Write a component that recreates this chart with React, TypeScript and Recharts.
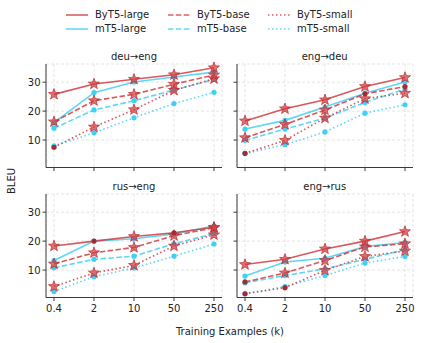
import React from 'react';
import { LineChart, Line, XAxis, YAxis, CartesianGrid } from 'recharts';

// x categories (training examples, thousands)
const categories = ['0.4', '2', '10', '50', '250'];
const yTicks = [10, 20, 30];

// deu→eng
const deuEngByt5Large = [25.8, 29.4, 31.0, 32.6, 35.0];
const deuEngMt5Large = [16.0, 26.4, 30.1, 31.8, 33.5];
const deuEngByt5Base = [16.3, 23.6, 25.8, 29.3, 32.5];
const deuEngMt5Base = [14.1, 20.4, 23.6, 27.3, 31.0];
const deuEngByt5Small = [7.5, 14.5, 20.5, 27.2, 31.2];
const deuEngMt5Small = [8.0, 12.5, 17.7, 22.6, 26.5];

// eng→deu
const engDeuByt5Large = [16.6, 20.8, 23.9, 28.5, 31.6];
const engDeuMt5Large = [13.8, 16.8, 21.4, 26.2, 30.1];
const engDeuByt5Base = [10.8, 15.4, 20.4, 26.0, 28.5];
const engDeuMt5Base = [9.9, 13.8, 17.6, 23.0, 27.6];
const engDeuByt5Small = [5.4, 9.9, 17.6, 24.3, 26.2];
const engDeuMt5Small = [5.3, 8.4, 12.8, 19.3, 22.2];

// rus→eng
const rusEngByt5Large = [18.3, 20.0, 21.6, 22.9, 24.8];
const rusEngMt5Large = [13.3, 20.0, 20.8, 22.5, 25.2];
const rusEngByt5Base = [12.1, 16.0, 17.8, 21.9, 24.6];
const rusEngMt5Base = [10.8, 13.7, 14.8, 19.1, 22.6];
const rusEngByt5Small = [4.3, 9.0, 11.6, 18.3, 22.2];
const rusEngMt5Small = [2.6, 7.7, 10.7, 14.8, 19.0];

// eng→rus
const engRusByt5Large = [11.9, 13.7, 17.3, 20.0, 23.3];
const engRusMt5Large = [7.9, 12.8, 14.1, 18.1, 19.5];
const engRusByt5Base = [5.9, 9.0, 13.3, 18.0, 19.1];
const engRusMt5Base = [5.6, 8.1, 10.4, 13.7, 17.0];
const engRusByt5Small = [1.8, 3.9, 9.9, 14.7, 16.6];
const engRusMt5Small = [1.8, 4.3, 8.1, 12.4, 14.7];

// star = ByT5 point marked as significant, otherwise small dark dot
const deuEngStars = { large: [1, 1, 1, 1, 1], base: [1, 1, 1, 1, 1], small: [0, 1, 1, 1, 1] };
const engDeuStars = { large: [1, 1, 1, 1, 1], base: [1, 1, 1, 0, 0], small: [0, 1, 1, 1, 1] };
const rusEngStars = { large: [1, 0, 1, 0, 1], base: [1, 1, 1, 1, 1], small: [1, 1, 1, 1, 1] };
const engRusStars = { large: [1, 1, 1, 1, 1], base: [0, 1, 1, 1, 1], small: [0, 0, 1, 1, 1] };

const RED = '#d33a3e';
const CYAN = '#3fd0f5';
const SPINE = '#3a3a3a';
const FONT = '"DejaVu Sans", sans-serif';
const DASH = '5.5 2.4';
const DOT = '1.5 2.5';

function buildRows(s: number[][]) {
    return categories.map((c, i) => ({
        x: c,
        byt5Large: s[0][i], mt5Large: s[1][i],
        byt5Base: s[2][i], mt5Base: s[3][i],
        byt5Small: s[4][i], mt5Small: s[5][i],
    }));
}

const panels = [
    { title: 'deu→eng', left: 46, top: 64, xLabels: false, yLabels: true, stars: deuEngStars,
      rows: buildRows([deuEngByt5Large, deuEngMt5Large, deuEngByt5Base, deuEngMt5Base, deuEngByt5Small, deuEngMt5Small]) },
    { title: 'eng→deu', left: 236.7, top: 64, xLabels: false, yLabels: false, stars: engDeuStars,
      rows: buildRows([engDeuByt5Large, engDeuMt5Large, engDeuByt5Base, engDeuMt5Base, engDeuByt5Small, engDeuMt5Small]) },
    { title: 'rus→eng', left: 46, top: 194, xLabels: true, yLabels: true, stars: rusEngStars,
      rows: buildRows([rusEngByt5Large, rusEngMt5Large, rusEngByt5Base, rusEngMt5Base, rusEngByt5Small, rusEngMt5Small]) },
    { title: 'eng→rus', left: 236.7, top: 194, xLabels: true, yLabels: false, stars: engRusStars,
      rows: buildRows([engRusByt5Large, engRusMt5Large, engRusByt5Base, engRusMt5Base, engRusByt5Small, engRusMt5Small]) },
];

const PLOT_W = 176;
const PLOT_H = 103.5;

const series = [
    { key: 'mt5Small', name: 'mT5-small', color: CYAN, dash: DOT, byt5: null },
    { key: 'mt5Base', name: 'mT5-base', color: CYAN, dash: DASH, byt5: null },
    { key: 'mt5Large', name: 'mT5-large', color: CYAN, dash: undefined, byt5: null },
    { key: 'byt5Small', name: 'ByT5-small', color: RED, dash: DOT, byt5: 'small' },
    { key: 'byt5Base', name: 'ByT5-base', color: RED, dash: DASH, byt5: 'base' },
    { key: 'byt5Large', name: 'ByT5-large', color: RED, dash: undefined, byt5: 'large' },
];

const legendItems = [
    ['ByT5-large', RED, undefined], ['ByT5-base', RED, DASH], ['ByT5-small', RED, DOT],
    ['mT5-large', CYAN, undefined], ['mT5-base', CYAN, DASH], ['mT5-small', CYAN, DOT],
];

function starPoints(cx: number, cy: number, R: number, r: number) {
    const pts: string[] = [];
    for (let i = 0; i < 10; i++) {
        const a = -Math.PI / 2 + (i * Math.PI) / 5;
        const rad = i % 2 === 0 ? R : r;
        pts.push(`${cx + rad * Math.cos(a)},${cy + rad * Math.sin(a)}`);
    }
    return pts.join(' ');
}

function makeDot(flags: number[] | null) {
    return (p: any) => {
        const { cx, cy, index } = p;
        if (cx == null || cy == null) return <g key={`e-${index}`} />;
        if (!flags) {
            return <circle key={`c-${index}`} cx={cx} cy={cy} r={2.6} fill={CYAN} />;
        }
        if (flags[index]) {
            return (
                <polygon key={`s-${index}`} points={starPoints(cx, cy, 5.8, 2.4)}
                    fill={RED} fillOpacity={0.72} stroke="#b8282d" strokeOpacity={0.85} strokeWidth={0.8} />
            );
        }
        return <circle key={`d-${index}`} cx={cx} cy={cy} r={2.6} fill="#9e2e33" />;
    };
}

function Panel({ cfg }: { cfg: any }) {
    const W = PLOT_W + 46 + 8;
    const H = PLOT_H + 10 + 30;
    const tickStyle = { fill: '#222', fontSize: 10, fontFamily: FONT };
    return (
        <div style={{ position: 'absolute', left: cfg.left - 46, top: cfg.top - 10 }}>
            <LineChart width={W} height={H} data={cfg.rows} margin={{ top: 10, left: 6, right: 8, bottom: 5 }}>
                <CartesianGrid stroke="#dedede" strokeDasharray="3 2" strokeWidth={0.8} />
                <XAxis dataKey="x" type="category" interval={0} padding={{ left: 8, right: 8 }} height={25}
                    tickSize={3.5} tickMargin={4} stroke={SPINE} tick={tickStyle}
                    tickFormatter={cfg.xLabels ? undefined : () => ''} />
                <XAxis xAxisId="t" dataKey="x" orientation="top" height={0} tick={false} tickLine={false}
                    padding={{ left: 8, right: 8 }} stroke={SPINE} />
                <YAxis domain={[0.5, 36.3]} ticks={yTicks} width={40} tickSize={3.5} tickMargin={2}
                    stroke={SPINE} tick={tickStyle} tickFormatter={cfg.yLabels ? undefined : () => ''} />
                <YAxis yAxisId="r" orientation="right" domain={[0.5, 36.3]} width={0} tick={false}
                    tickLine={false} stroke={SPINE} />
                {series.map(s => (
                    <Line key={s.key} dataKey={s.key} name={s.name} type="linear" stroke={s.color}
                        strokeOpacity={0.85} strokeWidth={1.6} strokeDasharray={s.dash}
                        dot={makeDot(s.byt5 ? cfg.stars[s.byt5] : null)} activeDot={false}
                        isAnimationActive={false} />
                ))}
            </LineChart>
        </div>
    );
}

export default function App() {
    return (
        <div style={{ position: 'absolute', left: 0, top: 0, width: 421, height: 343, background: '#fff',
            fontFamily: FONT, color: '#222' }}>
            {legendItems.map(([name, color, dash], i) => {
                const col = i % 3;
                const row = Math.floor(i / 3);
                const x = [66, 168, 268][col];
                const y = row === 0 ? 15 : 29.3;
                return (
                    <div key={name as string} style={{ position: 'absolute', left: x, top: y - 6, height: 12,
                        display: 'flex', alignItems: 'center' }}>
                        <svg width={22} height={12}>
                            <line x1={0} x2={22} y1={6} y2={6} stroke={color as string} strokeOpacity={0.8}
                                strokeWidth={1.6} strokeDasharray={dash as string | undefined} />
                        </svg>
                        <span style={{ marginLeft: 7, fontSize: 10, lineHeight: '12px' }}>{name}</span>
                    </div>
                );
            })}
            {panels.map(p => <Panel key={p.title} cfg={p} />)}
            {panels.map(p => (
                <div key={`t-${p.title}`} style={{ position: 'absolute', left: p.left, top: p.top - 13.5,
                    width: PLOT_W, textAlign: 'center', fontSize: 10, lineHeight: '12px' }}>{p.title}</div>
            ))}
            <div style={{ position: 'absolute', left: 12 - 30, top: 181 - 6, width: 60, height: 12,
                textAlign: 'center', fontSize: 10, lineHeight: '12px', transform: 'rotate(-90deg)' }}>BLEU</div>
            <div style={{ position: 'absolute', left: 130, top: 326, width: 200, textAlign: 'center',
                fontSize: 10, lineHeight: '12px' }}>Training Examples (k)</div>
        </div>
    );
}
